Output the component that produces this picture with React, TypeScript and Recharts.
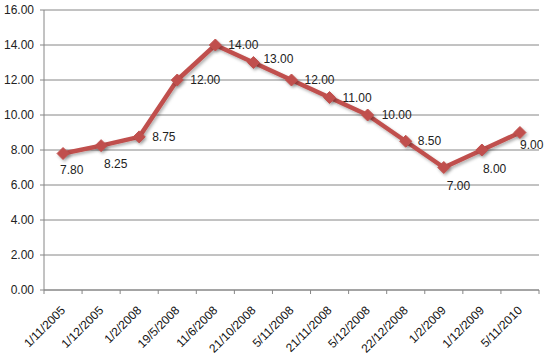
import React from "react";
import { LineChart, Line, XAxis, YAxis, CartesianGrid, LabelList } from "recharts";

const categories = [
  "1/11/2005", "1/12/2005", "1/2/2008", "19/5/2008", "11/6/2008", "21/10/2008",
  "5/11/2008", "21/11/2008", "5/12/2008", "22/12/2008", "1/2/2009", "1/12/2009", "5/11/2010",
];
const values = [7.8, 8.25, 8.75, 12, 14, 13, 12, 11, 10, 8.5, 7, 8, 9];
const yTicks = [0, 2, 4, 6, 8, 10, 12, 14, 16];

const data = categories.map((c, i) => ({ name: c, value: values[i] }));

// layout constants
const W = 550;
const H = 364;
const MARGIN = { top: 10, right: 11, bottom: 0, left: 0 };
const YAXIS_W = 44;
const XAXIS_H = 74;
const PLOT_W = W - MARGIN.left - MARGIN.right - YAXIS_W;
const BW = PLOT_W / categories.length;
const AXIS_Y = H - MARGIN.bottom - XAXIS_H;

// label placement: [dx, dy] from point to label's left / vertical centre
const LABEL_OFFSETS: [number, number][] = [
  [-3, 16], [3, 18], [13, 0], [13, 0], [13, 0], [10, -4], [13, 0],
  [13, 0], [14, 0], [12, 0], [3, 18], [1, 19], [0, 12],
];

const LINE_COLOR = "#C0504D";
const AXIS_COLOR = "#868686";
const FONT = "Arial, 'Liberation Sans', sans-serif";

const XTick = (props: any) => {
  const { x, index, payload } = props;
  const left = x - BW / 2;
  return (
    <g>
      <line x1={left} y1={AXIS_Y} x2={left} y2={AXIS_Y + 4} stroke={AXIS_COLOR} />
      {index === categories.length - 1 && (
        <line x1={x + BW / 2} y1={AXIS_Y} x2={x + BW / 2} y2={AXIS_Y + 4} stroke={AXIS_COLOR} />
      )}
      <text
        transform={`translate(${x + 3},${AXIS_Y + 21}) rotate(-45)`}
        textAnchor="end"
        fontSize={12}
        fontFamily={FONT}
        fill="#111"
      >
        {payload.value}
      </text>
    </g>
  );
};

const Diamond = (props: any) => {
  const { cx, cy } = props;
  if (cx == null || cy == null) return null;
  const r = 6;
  return (
    <path
      d={`M${cx},${cy - r} L${cx + r},${cy} L${cx},${cy + r} L${cx - r},${cy} Z`}
      fill={LINE_COLOR}
      stroke={LINE_COLOR}
      strokeWidth={1}
      filter="url(#shadow)"
    />
  );
};

const DataLabel = (props: any) => {
  const { x, y, value, index } = props;
  const [dx, dy] = LABEL_OFFSETS[index] || [12, 0];
  return (
    <text
      x={x + dx}
      y={y + dy}
      dy={4}
      textAnchor="start"
      fontSize={12}
      fontFamily={FONT}
      fill="#222"
    >
      {Number(value).toFixed(2)}
    </text>
  );
};

export default function App() {
  return (
    <div style={{ position: "absolute", left: 0, top: 0, background: "#fff" }}>
      <LineChart width={W} height={H} data={data} margin={MARGIN}>
        <defs>
          <filter id="shadow" x="-30%" y="-30%" width="160%" height="160%">
            <feDropShadow dx="1.5" dy="2" stdDeviation="1.5" floodColor="#000" floodOpacity="0.3" />
          </filter>
        </defs>
        <CartesianGrid vertical={false} stroke={AXIS_COLOR} />
        <XAxis
          dataKey="name"
          scale="band"
          height={XAXIS_H}
          interval={0}
          tickLine={false}
          axisLine={{ stroke: AXIS_COLOR }}
          tick={<XTick />}
        />
        <YAxis
          width={YAXIS_W}
          domain={[0, 16]}
          ticks={yTicks}
          interval={0}
          tickSize={4}
          tickMargin={6}
          tickFormatter={(v: number) => v.toFixed(2)}
          axisLine={{ stroke: AXIS_COLOR }}
          tickLine={{ stroke: AXIS_COLOR }}
          tick={{ fontSize: 12, fontFamily: FONT, fill: "#222" }}
        />
        <Line
          type="linear"
          dataKey="value"
          stroke={LINE_COLOR}
          strokeWidth={4.5}
          strokeLinejoin="round"
          filter="url(#shadow)"
          dot={<Diamond />}
          activeDot={false}
          isAnimationActive={false}
        >
          <LabelList dataKey="value" content={<DataLabel />} />
        </Line>
      </LineChart>
    </div>
  );
}
